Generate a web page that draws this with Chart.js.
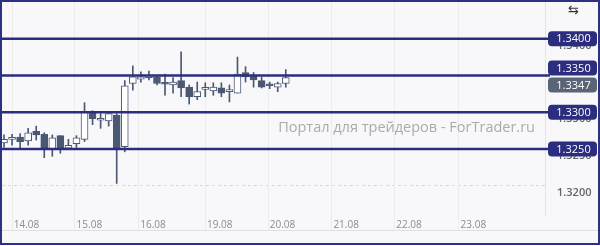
<!DOCTYPE html>
<html lang="ru">
<head>
<meta charset="UTF-8">
<title>EUR/USD H3</title>
<script src="https://cdn.jsdelivr.net/npm/chart.js"></script>
<style>
    html, body { margin: 0; padding: 0; background: #fff; }
    .frame {
        position: absolute; left: 0; top: 0;
        width: 600px; height: 245px;
        box-sizing: border-box;
        border: 2px solid #2e3083;
        background: #f8f8fa;
    }
    canvas { display: block; }
</style>
</head>
<body>
<div class="frame">
    <canvas id="chart" width="596" height="241"></canvas>
</div>
<script>
// 3-hour candles
const opens  = [1.3258, 1.3263, 1.3266, 1.3261, 1.3274, 1.3270, 1.3250, 1.3268, 1.3251, 1.3257,
                1.3263, 1.3299, 1.3289, 1.3288, 1.3296, 1.3253, 1.3339, 1.3345, 1.3347, 1.3348,
                1.3339, 1.3337, 1.3343, 1.3334, 1.3321, 1.3331, 1.3329, 1.3333, 1.3328, 1.3326,
                1.3354, 1.3350, 1.3343, 1.3337, 1.3334, 1.3339];
const highs  = [1.3269, 1.3270, 1.3271, 1.3278, 1.3281, 1.3272, 1.3269, 1.3268, 1.3263, 1.3268,
                1.3313, 1.3302, 1.3298, 1.3300, 1.3298, 1.3343, 1.3363, 1.3355, 1.3356, 1.3350,
                1.3352, 1.3347, 1.3382, 1.3337, 1.3341, 1.3340, 1.3340, 1.3340, 1.3337, 1.3375,
                1.3362, 1.3354, 1.3348, 1.3341, 1.3341, 1.3358];
const lows   = [1.3252, 1.3255, 1.3251, 1.3255, 1.3262, 1.3238, 1.3240, 1.3244, 1.3250, 1.3252,
                1.3260, 1.3283, 1.3278, 1.3281, 1.3203, 1.3246, 1.3330, 1.3341, 1.3344, 1.3337,
                1.3323, 1.3326, 1.3321, 1.3311, 1.3317, 1.3321, 1.3323, 1.3321, 1.3314, 1.3326,
                1.3341, 1.3334, 1.3333, 1.3332, 1.3328, 1.3334];
const closes = [1.3263, 1.3264, 1.3260, 1.3272, 1.3269, 1.3251, 1.3265, 1.3251, 1.3255, 1.3265,
                1.3300, 1.3291, 1.3290, 1.3298, 1.3251, 1.3336, 1.3348, 1.3348, 1.3348, 1.3339,
                1.3338, 1.3341, 1.3333, 1.3321, 1.3328, 1.3332, 1.3334, 1.3326, 1.3329, 1.3352,
                1.3348, 1.3344, 1.3334, 1.3336, 1.3339, 1.3347];

const xTickPos    = [2.8, 10.6, 18.5, 26.8, 34.6, 42.5, 50.3, 58.3];
const xTickLabels = ['14.08', '15.08', '16.08', '19.08', '20.08', '21.08', '22.08', '23.08'];
const yTicks      = [1.3200, 1.3250, 1.3300, 1.3350, 1.3400];
const levels      = [1.3400, 1.3350, 1.3300, 1.3250];
const lastPrice   = 1.3347;
const watermark   = 'Портал для трейдеров - ForTrader.ru';

const NAVY = '#2b2e7e';
const CANDLE = '#4b5874';

const chartDecor = {
    id: 'chartDecor',
    beforeDatasetsDraw(chart) {
        const { ctx, chartArea } = chart;
        const xs = chart.scales.x;
        ctx.save();
        // faint day separators
        ctx.strokeStyle = '#ececef';
        ctx.lineWidth = 1;
        xTickPos.forEach(v => {
            const px = Math.round(xs.getPixelForValue(v)) - 14.5;
            ctx.beginPath();
            ctx.moveTo(px, 0);
            ctx.lineTo(px, chartArea.bottom + 15);
            ctx.stroke();
        });
        // lower separator
        ctx.strokeStyle = '#e0e0e3';
        ctx.beginPath();
        ctx.moveTo(0, chartArea.bottom + 15.5);
        ctx.lineTo(chart.width, chartArea.bottom + 15.5);
        ctx.stroke();
        // watermark
        ctx.fillStyle = '#ababab';
        ctx.font = '14.5px "Open Sans"';
        ctx.textAlign = 'right';
        ctx.textBaseline = 'alphabetic';
        ctx.fillText(watermark, chartArea.right - 10, chart.scales.y.getPixelForValue(1.3275) + 1);
        ctx.restore();
    },
    afterDraw(chart) {
        const { ctx, chartArea } = chart;
        const ys = chart.scales.y;
        const tagLeft = chartArea.right + 3;
        const tagW = chart.width - 1 - tagLeft;
        const tagH = 15;
        ctx.save();
        // level lines
        ctx.strokeStyle = NAVY;
        ctx.lineWidth = 2.5;
        levels.forEach(v => {
            const py = ys.getPixelForValue(v);
            ctx.beginPath();
            ctx.moveTo(chartArea.left, py);
            ctx.lineTo(tagLeft + 2, py);
            ctx.stroke();
        });
        // price tags, pushed apart when they overlap
        const tags = levels.map(v => ({ v, y: ys.getPixelForValue(v), color: NAVY }));
        tags.push({ v: lastPrice, y: ys.getPixelForValue(lastPrice), color: '#5a6477' });
        tags.sort((a, b) => a.y - b.y);
        for (let i = 1; i < tags.length; i++) {
            const a = tags[i - 1], b = tags[i];
            if (b.y - a.y < tagH + 2) {
                const mid = (a.y + b.y) / 2;
                a.y = mid - (tagH + 2) / 2;
                b.y = mid + (tagH + 2) / 2;
            }
        }
        ctx.font = '11px "Open Sans"';
        ctx.textAlign = 'center';
        ctx.textBaseline = 'middle';
        tags.forEach(t => {
            ctx.fillStyle = t.color;
            ctx.beginPath();
            ctx.roundRect(tagLeft, t.y - tagH / 2, tagW, tagH, 4);
            ctx.fill();
            ctx.fillStyle = '#ffffff';
            ctx.fillText(t.v.toFixed(4), tagLeft + tagW / 2 + 1, t.y + 0.5);
        });
        // toolbar glyph
        ctx.fillStyle = '#333';
        ctx.font = '13px "DejaVu Sans"';
        ctx.fillText('⇆', tagLeft + tagW / 2 + 1, 9);
        ctx.restore();
    }
};

new Chart(document.getElementById('chart'), {
    type: 'bar',
    data: {
        datasets: [
            {
                label: 'body',
                data: opens.map((o, i) => ({ x: i, y: [o, closes[i]] })),
                backgroundColor: opens.map((o, i) => closes[i] >= o ? '#ffffff' : CANDLE),
                borderColor: CANDLE,
                borderWidth: 1,
                borderSkipped: false,
                barThickness: 7,
                minBarLength: 2,
                grouped: false,
                order: 0
            },
            {
                label: 'wick',
                data: highs.map((h, i) => ({ x: i, y: [lows[i], h] })),
                backgroundColor: CANDLE,
                barThickness: 1,
                grouped: false,
                order: 1
            }
        ]
    },
    options: {
        responsive: false,
        animation: false,
        layout: { padding: { left: 0, top: 0, right: 0, bottom: 8 } },
        plugins: { legend: { display: false }, tooltip: { enabled: false } },
        scales: {
            x: {
                type: 'linear',
                min: -0.25,
                max: 67.2,
                offset: false,
                grid: { display: false, drawTicks: false },
                border: { display: false },
                afterBuildTicks: s => { s.ticks = xTickPos.map(v => ({ value: v })); },
                afterFit: s => { s.paddingLeft = 0; s.paddingRight = 0; },
                ticks: {
                    padding: 4,
                    color: '#8c8c8c',
                    font: { family: 'Open Sans', size: 10 },
                    maxRotation: 0,
                    autoSkip: false,
                    callback: v => xTickLabels[xTickPos.indexOf(v)]
                }
            },
            y: {
                position: 'right',
                min: 1.3160,
                max: 1.3450,
                afterFit: s => { s.width = 53; s.paddingTop = 0; s.paddingBottom = 0; },
                afterBuildTicks: s => { s.ticks = yTicks.map(v => ({ value: v })); },
                grid: { color: '#d9d9dd', drawTicks: false },
                border: { display: true, color: '#e4e4e8', dash: [3, 3] },
                ticks: {
                    padding: 12,
                    labelOffset: 7,
                    color: '#666',
                    font: { family: 'Open Sans', size: 11, weight: '600' },
                    callback: v => v.toFixed(4)
                }
            }
        }
    },
    plugins: [chartDecor]
});
</script>
</body>
</html>
